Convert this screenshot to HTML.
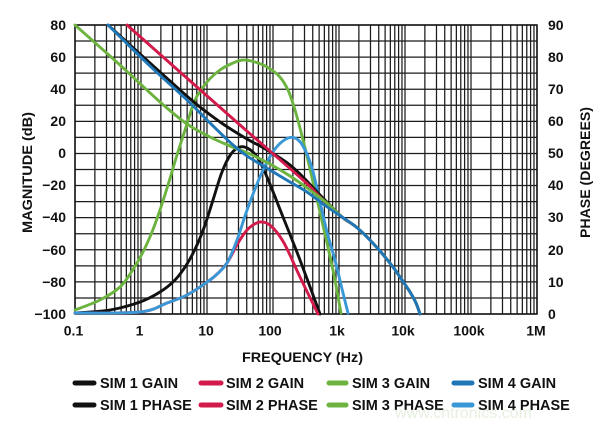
<!DOCTYPE html>
<html><head><meta charset="utf-8"><style>
html,body{margin:0;padding:0;background:#fff;}
svg{display:block;}
text{font-family:"Liberation Sans",Arial,sans-serif;font-weight:bold;fill:#111;}
</style></head><body>
<svg id="chart" width="600" height="426" viewBox="0 0 600 426" xmlns="http://www.w3.org/2000/svg">
<rect width="600" height="426" fill="#fff"/>
<g stroke="#1c1c1c" stroke-width="1.25" fill="none">
<path d="M75,25V314M94.87,25V314M106.49,25V314M114.74,25V314M121.13,25V314M126.36,25V314M130.78,25V314M134.6,25V314M137.98,25V314
M141,25V314M160.87,25V314M172.49,25V314M180.74,25V314M187.13,25V314M192.36,25V314M196.78,25V314M200.6,25V314M203.98,25V314
M207,25V314M226.87,25V314M238.49,25V314M246.74,25V314M253.13,25V314M258.36,25V314M262.78,25V314M266.6,25V314M269.98,25V314
M273,25V314M292.87,25V314M304.49,25V314M312.74,25V314M319.13,25V314M324.36,25V314M328.78,25V314M332.6,25V314M335.98,25V314
M339,25V314M358.87,25V314M370.49,25V314M378.74,25V314M385.13,25V314M390.36,25V314M394.78,25V314M398.6,25V314M401.98,25V314
M405,25V314M424.87,25V314M436.49,25V314M444.74,25V314M451.13,25V314M456.36,25V314M460.78,25V314M464.6,25V314M467.98,25V314
M471,25V314M490.87,25V314M502.49,25V314M510.74,25V314M517.13,25V314M522.36,25V314M526.78,25V314M530.6,25V314M533.98,25V314M537,25V314"/>
<path d="M75,25H537M75,41.06H537M75,57.11H537M75,73.17H537M75,89.22H537M75,105.28H537M75,121.33H537M75,137.39H537M75,153.44H537M75,169.5H537M75,185.56H537M75,201.61H537M75,217.67H537M75,233.72H537M75,249.78H537M75,265.83H537M75,281.89H537M75,297.94H537M75,314H537"/>
</g>
<rect x="75" y="25" width="462" height="289" fill="none" stroke="#111" stroke-width="1.5"/>

<g fill="none" stroke-width="2.9" stroke-linejoin="round" stroke-linecap="round">
<!-- phases -->
<polyline class="s" stroke="#111" points="75,313 110,310 140,302 160,292 175,280 187,264 197,245 205,225 213,200 222,172 231,154 240,147 249,149 257,157 267,177 283,217 300,260 320,314"/>
<polyline class="s" stroke="#d21a4b" points="75,313 140,312 167,303 185,296 200,287 215,276 227,263 238,243 248,229 260,222 271,226 284,243 300,277 318,314"/>
<polyline class="s" stroke="#6cb33f" points="75,310 100,300 120,287 132,271 142,254 152,232 160,210 168,185 177,155 187,124 195,100 207,82 220,70 233,63 243,60 255,62 267,67 279,76 288,90 295,110 301,132 307,156 313,182 320,212 327,243 334,275 341,313"/>
<polyline class="s" stroke="#3a98d6" points="75,313 140,312 167,303 185,296 200,287 215,276 227,263 237,240 246,213 255,189 264,168 275,149 286,139 295,138 303,146 312,168 320,202 327,232 335,260 343,293 348,313"/>
<!-- gains -->
<polyline class="s" stroke="#111" points="108,25 140,54 180,90 200,107 223,124 247,139 262,147 277,156 290,165 303,177 320,195 342,217 355,226 367,237 380,251 393,267 402,280 410,292 416,303 420,314"/>
<polyline class="s" stroke="#d21a4b" points="127,25 180,72 240,125 303,180 320,197 342,217 355,226 367,237 380,251 393,267 402,280 410,292 416,303 420,314"/>
<polyline class="s" stroke="#6cb33f" points="75,25 120,65 160,102 187,124 210,137 230,146 250,154 270,164 290,176 310,190 328,204 342,217 355,226 367,237 380,251 393,267 402,280 410,292 416,303 420,314"/>
<polyline class="s" stroke="#2077b8" points="108,25 150,66 187,100 210,123 233,145 247,156 260,164 275,173 290,182 307,192 323,204 342,217 355,226 367,237 380,251 393,267 402,280 410,292 416,303 420,314"/>
</g>

<g font-size="14" text-anchor="end">
<text x="66" y="30">80</text>
<text x="66" y="62">60</text>
<text x="66" y="94">40</text>
<text x="66" y="126">20</text>
<text x="66" y="158">0</text>
<text x="66" y="190">−20</text>
<text x="66" y="222">−40</text>
<text x="66" y="255">−60</text>
<text x="66" y="287">−80</text>
<text x="66" y="319">−100</text>
</g>
<g font-size="14" text-anchor="start">
<text x="548" y="30">90</text>
<text x="548" y="62">80</text>
<text x="548" y="94">70</text>
<text x="548" y="126">60</text>
<text x="548" y="158">50</text>
<text x="548" y="190">40</text>
<text x="548" y="222">30</text>
<text x="548" y="255">20</text>
<text x="548" y="287">10</text>
<text x="548" y="319">0</text>
</g>
<g font-size="14" text-anchor="middle">
<text x="73.5" y="335.5">0.1</text>
<text x="139.5" y="335.5">1</text>
<text x="206" y="335.5">10</text>
<text x="270" y="335.5">100</text>
<text x="337" y="335.5">1k</text>
<text x="403" y="335.5">10k</text>
<text x="469" y="335.5">100k</text>
<text x="536" y="335.5">1M</text>
</g>
<text x="302.5" y="362" font-size="14" text-anchor="middle" textLength="121" lengthAdjust="spacingAndGlyphs">FREQUENCY (Hz)</text>
<text transform="translate(32,172.5) rotate(-90)" font-size="14" text-anchor="middle" textLength="121" lengthAdjust="spacingAndGlyphs">MAGNITUDE (dB)</text>
<text transform="translate(590,172.5) rotate(-90)" font-size="14" text-anchor="middle" textLength="131" lengthAdjust="spacingAndGlyphs">PHASE (DEGREES)</text>

<g stroke-width="5" stroke-linecap="round">
<line x1="75" y1="383" x2="94" y2="383" stroke="#111"/>
<line x1="75" y1="405" x2="94" y2="405" stroke="#111"/>
<line x1="201" y1="383" x2="221" y2="383" stroke="#d21a4b"/>
<line x1="201" y1="405" x2="221" y2="405" stroke="#d21a4b"/>
<line x1="329" y1="383" x2="346" y2="383" stroke="#6cb33f"/>
<line x1="329" y1="405" x2="346" y2="405" stroke="#6cb33f"/>
<line x1="454" y1="383" x2="472" y2="383" stroke="#2077b8"/>
<line x1="454" y1="405" x2="472" y2="405" stroke="#3a98d6"/>
</g>
<g font-size="14.5">
<text x="100" y="388">SIM 1 GAIN</text>
<text x="100" y="410">SIM 1 PHASE</text>
<text x="226" y="388">SIM 2 GAIN</text>
<text x="226" y="410">SIM 2 PHASE</text>
<text x="352" y="388">SIM 3 GAIN</text>
<text x="352" y="410">SIM 3 PHASE</text>
<text x="478" y="388">SIM 4 GAIN</text>
<text x="478" y="410">SIM 4 PHASE</text>
</g>
<text x="395" y="418" font-size="16" style="font-weight:normal;fill:#cfe3c4;fill-opacity:0.55">www.cntronics.com</text>
</svg>
<script>
(function(){
  var NS="http://www.w3.org/2000/svg";
  var pls=document.querySelectorAll('polyline.s');
  for(var k=0;k<pls.length;k++){
    var p=pls[k];
    var a=p.getAttribute('points').trim().split(/\s+/).map(function(s){return s.split(',').map(Number);});
    var d='M'+a[0][0]+','+a[0][1];
    for(var i=0;i<a.length-1;i++){
      var p0=a[i-1]||a[i],p1=a[i],p2=a[i+1],p3=a[i+2]||a[i+1];
      var c1x=p1[0]+(p2[0]-p0[0])/6,c1y=p1[1]+(p2[1]-p0[1])/6;
      var c2x=p2[0]-(p3[0]-p1[0])/6,c2y=p2[1]-(p3[1]-p1[1])/6;
      d+=' C'+c1x.toFixed(2)+','+c1y.toFixed(2)+' '+c2x.toFixed(2)+','+c2y.toFixed(2)+' '+p2[0]+','+p2[1];
    }
    var path=document.createElementNS(NS,'path');
    path.setAttribute('d',d);
    path.setAttribute('stroke',p.getAttribute('stroke'));
    p.parentNode.replaceChild(path,p);
  }
})();
</script>
</body></html>
